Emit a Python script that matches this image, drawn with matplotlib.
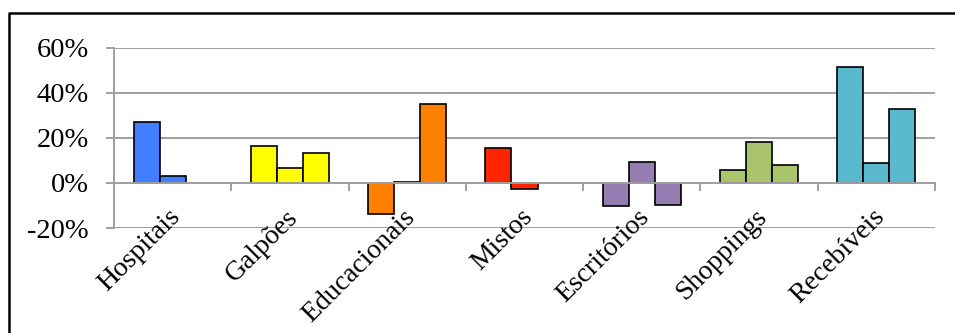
import matplotlib
matplotlib.use("Agg")
import matplotlib.pyplot as plt
import numpy as np
from matplotlib.lines import Line2D
from matplotlib.transforms import offset_copy

categories = ["Hospitais", "Galpões", "Educacionais", "Mistos",
              "Escritórios", "Shoppings", "Recebíveis"]
series_a = [27.0, 16.2, -13.6, 15.5, -10.4, 5.7, 51.5]
series_b = [3.0, 6.7, 0.5, -2.6, 9.2, 18.3, 8.7]
series_c = [np.nan, 13.1, 34.9, np.nan, -10.0, 8.1, 32.8]
colors = ["#4080ff", "#ffff00", "#ff7f00", "#ff2400",
          "#957db1", "#a9c46c", "#5ab8cf"]
y_ticks = [-20, 0, 20, 40, 60]
y_tick_labels = ["-20%", "0%", "20%", "40%", "60%"]

FONT = "Liberation Serif"
W, H = 955, 333
fig = plt.figure(figsize=(W / 100, H / 100), dpi=100)
ax = fig.add_axes([114 / W, 1 - 228 / H, (935 - 114) / W, (228 - 47.5) / H])

grid_color = "#a0a0a0"
x = np.arange(len(categories))
w = 1 / 4.5
for k, vals in enumerate([series_a, series_b, series_c]):
    ax.bar(x + (k - 1) * w, vals, width=w, color=colors,
           edgecolor="black", linewidth=1.2, zorder=3)

ax.set_xlim(-0.5, len(categories) - 0.5)
ax.set_ylim(-20, 60)

# horizontal gridlines
for yv in y_ticks:
    if yv != 0:
        ax.axhline(yv, color=grid_color, lw=1.4, zorder=1)

for s in ["top", "right"]:
    ax.spines[s].set_visible(False)
ax.spines["left"].set_color(grid_color)
ax.spines["left"].set_linewidth(1.4)
ax.spines["bottom"].set_position(("data", 0))
ax.spines["bottom"].set_color(grid_color)
ax.spines["bottom"].set_linewidth(1.4)
ax.spines["bottom"].set_zorder(4)

ax.set_yticks(y_ticks)
ax.set_yticklabels(y_tick_labels, fontfamily=FONT, fontsize=20.5)
for lbl in ax.get_yticklabels():
    lbl.set_verticalalignment("center_baseline")
ax.tick_params(axis="y", length=6, width=1.4, color=grid_color, pad=12)

ax.set_xticks(np.arange(len(categories) + 1) - 0.5)
ax.set_xticklabels([])
ax.tick_params(axis="x", length=5.5, width=1.4, color=grid_color)

# category labels, rotated, hanging below the zero line
trans = offset_copy(ax.transData, fig=fig, x=3, y=-22, units="points")
for xi, name in zip(x, categories):
    ax.text(xi, 0, name, transform=trans, rotation=45, rotation_mode="anchor",
            ha="right", va="center", fontfamily=FONT, fontsize=20)

# outer frame
fig.add_artist(Line2D([9 / W, 9 / W, 1.01], [-0.01, 1 - 13 / H, 1 - 13 / H],
                      transform=fig.transFigure, color="black", lw=1.8))

fig.savefig("out.png", dpi=100)
